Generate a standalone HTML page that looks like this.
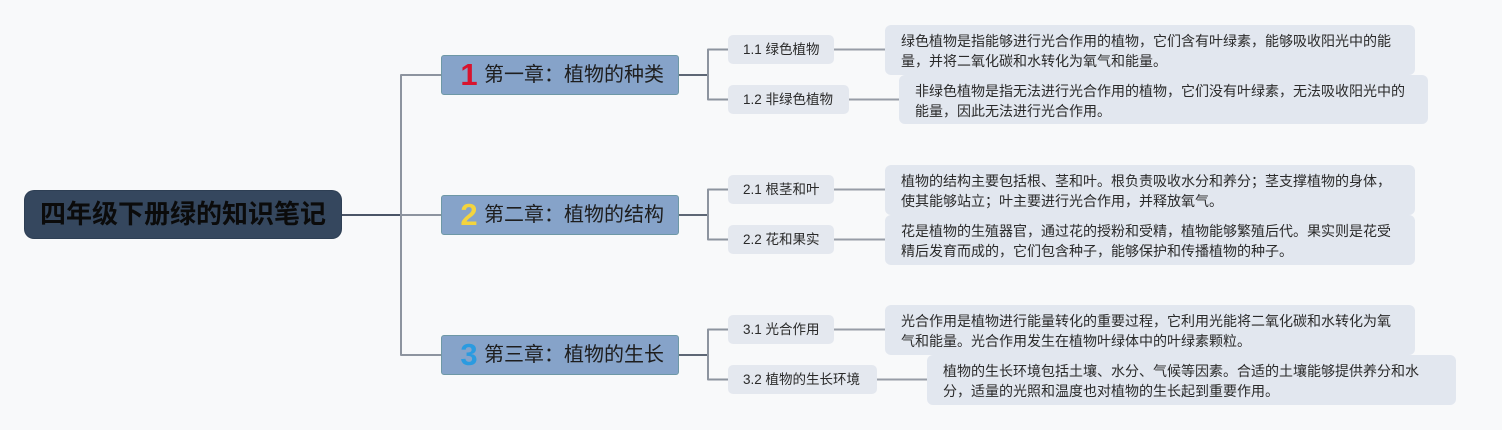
<!DOCTYPE html>
<html>
<head>
<meta charset="utf-8">
<style>
  html,body{margin:0;padding:0;}
  body{width:1502px;height:430px;background:#f8f9fa;position:relative;overflow:hidden;
       font-family:"Liberation Sans","Noto Sans CJK SC",sans-serif;}
  .abs{position:absolute;}
  .root{left:25px;top:191px;width:316px;height:47px;background:#35475e;border-radius:9px;
        color:#0b0b0b;font-weight:bold;font-size:26px;line-height:47px;text-align:center;white-space:nowrap;
        box-shadow:0 0 0 1px #2e3f54;}
  .ch{left:441px;width:236px;height:38px;background:#86a3c9;border:1px solid #6e98a6;border-radius:3px;}
  .num{position:absolute;left:13px;width:28px;text-align:center;top:0;height:38px;line-height:38px;
       font-weight:bold;font-size:31px;font-family:"Liberation Sans",sans-serif;}
  .cht{position:absolute;left:42px;top:0;height:38px;line-height:38px;font-size:20px;color:#1e1e1e;white-space:nowrap;}
  .sub{left:728px;height:29px;background:#e4e8ef;border-radius:5px;font-size:13.5px;color:#2a2a2a;
       line-height:29px;padding-left:15px;box-sizing:border-box;white-space:nowrap;}
  .desc{height:50px;background:#e2e7ef;border-radius:6px;font-size:14px;color:#2a2a2a;line-height:20px;
        padding:6px 0 0 16px;box-sizing:border-box;white-space:nowrap;}
</style>
</head>
<body>
<svg class="abs" style="left:0;top:0" width="1502" height="430" viewBox="0 0 1502 430">
  <g fill="none" stroke-linejoin="round">
    <path d="M341 215 H401" stroke="#4b5567" stroke-width="2"/>
    <path d="M441 75 H401 V355 H441 M401 215 H441" stroke="#8d949f" stroke-width="2"/>
    <path d="M678 75 H708 M678 215 H708 M678 355 H708" stroke="#5e6775" stroke-width="2"/>
    <path d="M728 49.5 H708 V99.5 H728 M728 189.5 H708 V239.5 H728 M728 329.5 H708 V379.5 H728" stroke="#8d949f" stroke-width="2"/>
    <path d="M834 49.5 H885 M849 99.5 H899 M834 189.5 H885 M834 239.5 H885 M834 329.5 H885 M877 379.5 H927" stroke="#979da7" stroke-width="2"/>
  </g>
</svg>

<div class="abs root">四年级下册绿的知识笔记</div>

<div class="abs ch" style="top:55px;"><span class="num" style="color:#d8142e;">1</span><span class="cht">第一章：植物的种类</span></div>
<div class="abs ch" style="top:195px;"><span class="num" style="color:#f3d43e;">2</span><span class="cht">第二章：植物的结构</span></div>
<div class="abs ch" style="top:335px;"><span class="num" style="color:#2a9be0;">3</span><span class="cht">第三章：植物的生长</span></div>

<div class="abs sub" style="top:35px;width:106px;">1.1 绿色植物</div>
<div class="abs sub" style="top:85px;width:121px;">1.2 非绿色植物</div>
<div class="abs sub" style="top:175px;width:106px;">2.1 根茎和叶</div>
<div class="abs sub" style="top:225px;width:106px;">2.2 花和果实</div>
<div class="abs sub" style="top:315px;width:106px;">3.1 光合作用</div>
<div class="abs sub" style="top:365px;width:149px;">3.2 植物的生长环境</div>

<div class="abs desc" style="left:885px;top:25px;width:530px;">绿色植物是指能够进行光合作用的植物，它们含有叶绿素，能够吸收阳光中的能<br>量，并将二氧化碳和水转化为氧气和能量。</div>
<div class="abs desc" style="left:899px;top:75px;width:529px;height:49px;">非绿色植物是指无法进行光合作用的植物，它们没有叶绿素，无法吸收阳光中的<br>能量，因此无法进行光合作用。</div>
<div class="abs desc" style="left:885px;top:165px;width:530px;">植物的结构主要包括根、茎和叶。根负责吸收水分和养分；茎支撑植物的身体，<br>使其能够站立；叶主要进行光合作用，并释放氧气。</div>
<div class="abs desc" style="left:885px;top:215px;width:530px;">花是植物的生殖器官，通过花的授粉和受精，植物能够繁殖后代。果实则是花受<br>精后发育而成的，它们包含种子，能够保护和传播植物的种子。</div>
<div class="abs desc" style="left:885px;top:305px;width:530px;">光合作用是植物进行能量转化的重要过程，它利用光能将二氧化碳和水转化为氧<br>气和能量。光合作用发生在植物叶绿体中的叶绿素颗粒。</div>
<div class="abs desc" style="left:927px;top:355px;width:529px;">植物的生长环境包括土壤、水分、气候等因素。合适的土壤能够提供养分和水<br>分，适量的光照和温度也对植物的生长起到重要作用。</div>
</body>
</html>
